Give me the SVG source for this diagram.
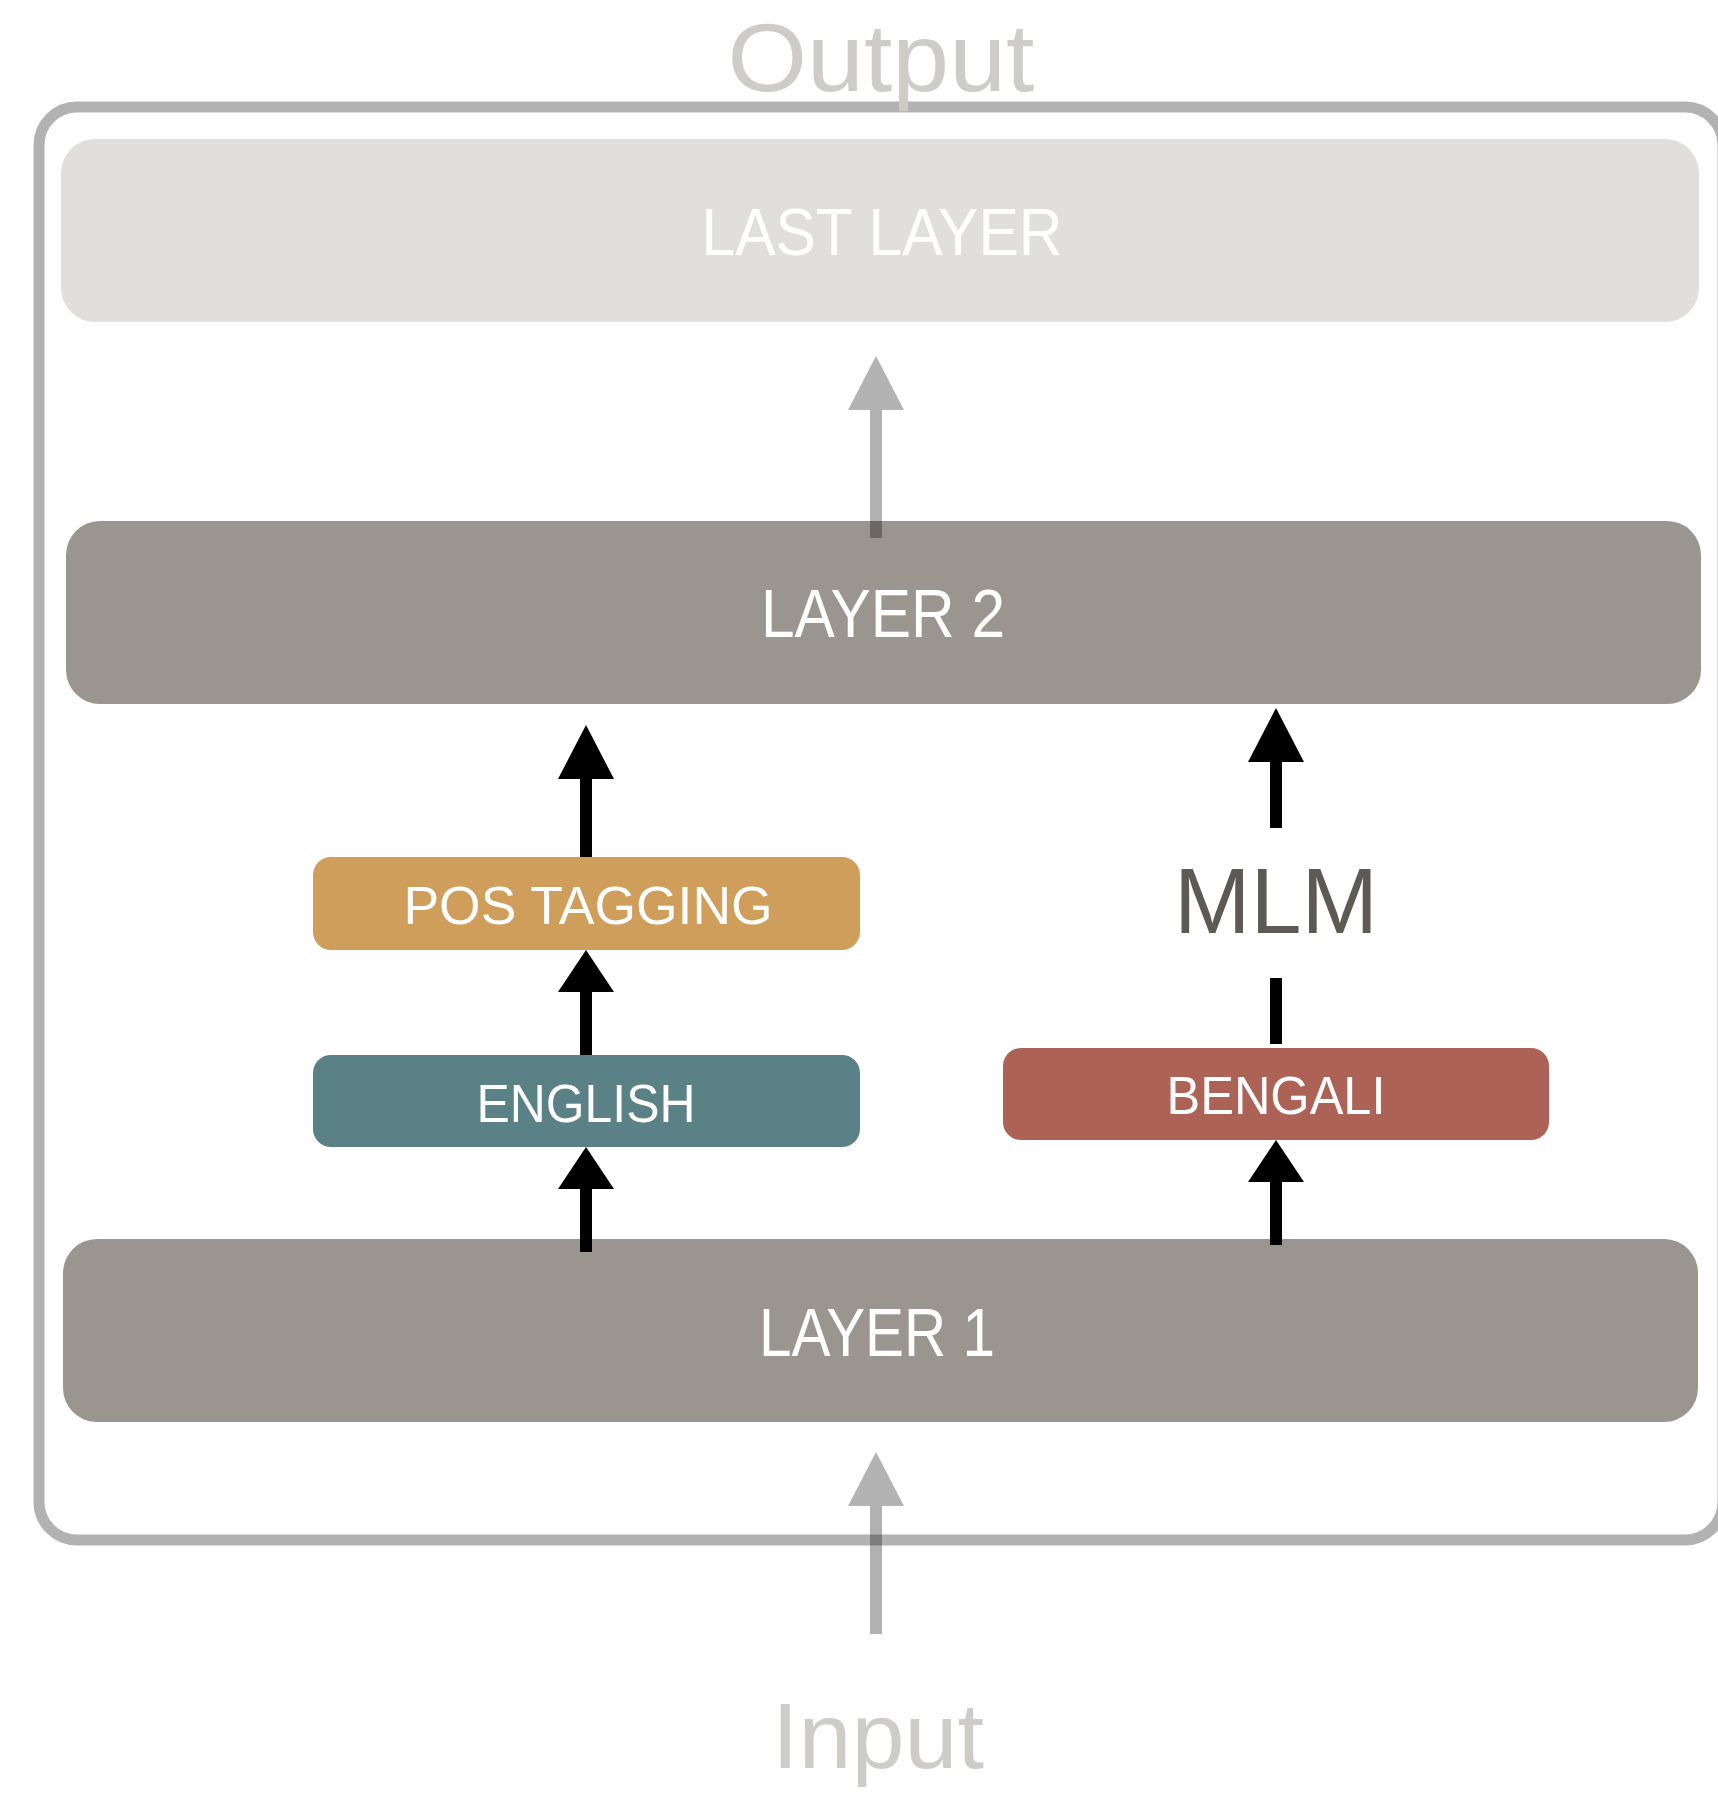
<svg xmlns="http://www.w3.org/2000/svg" width="1718" height="1793" viewBox="0 0 1718 1793">
<style>
.lbl{font-family:"Liberation Sans",Arial,sans-serif;fill:#ffffff;text-anchor:middle}
.io{font-family:"Liberation Sans",Arial,sans-serif;fill:#cdccc9;text-anchor:middle}
.blk{stroke:#000;stroke-width:12;fill:none}
.gry{stroke:#000;stroke-opacity:0.3;stroke-width:12;fill:none}
</style>
<defs>
<marker id="ah" markerUnits="userSpaceOnUse" markerWidth="56" markerHeight="54" refX="28" refY="0" viewBox="0 0 56 54" orient="auto-start-reverse" overflow="visible">
<path d="M0,54 L28,0 L56,54 Z" fill="#000"/>
</marker>
<marker id="ahg" markerUnits="userSpaceOnUse" markerWidth="56" markerHeight="54" refX="28" refY="0" viewBox="0 0 56 54" orient="auto-start-reverse" overflow="visible">
<path d="M0,54 L28,0 L56,54 Z" fill="#b3b3b3"/>
</marker>
</defs>
<rect width="1718" height="1793" fill="#ffffff"/>
<g id="frame">
<rect x="39" y="107" width="1684" height="1433" rx="38" fill="none" stroke="#000" stroke-opacity="0.3" stroke-width="11"/>
</g>
<g id="output"><text class="io" x="881" y="91" font-size="96" textLength="307" lengthAdjust="spacingAndGlyphs">Output</text></g>
<g id="input"><text class="io" x="878" y="1768" font-size="92" textLength="212" lengthAdjust="spacingAndGlyphs">Input</text></g>
<g id="last-layer">
<rect x="61" y="139" width="1638" height="183" rx="34" fill="#e0dfdd"/>
<text class="lbl" x="882" y="255" font-size="67" textLength="361" lengthAdjust="spacingAndGlyphs">LAST LAYER</text>
</g>
<g id="layer-2">
<rect x="66" y="521" width="1635" height="183" rx="34" fill="#9a958f"/>
<text class="lbl" x="883" y="637" font-size="68" textLength="244" lengthAdjust="spacingAndGlyphs">LAYER 2</text>
</g>
<g id="layer-1">
<rect x="63" y="1239" width="1635" height="183" rx="34" fill="#9a958f"/>
<text class="lbl" x="877" y="1356" font-size="68" textLength="236" lengthAdjust="spacingAndGlyphs">LAYER 1</text>
</g>
<g id="pos-tagging">
<rect x="313" y="857" width="547" height="93" rx="18" fill="#cf9e5b"/>
<text class="lbl" x="588" y="924" font-size="54" textLength="369" lengthAdjust="spacingAndGlyphs">POS TAGGING</text>
</g>
<g id="english">
<rect x="313" y="1055" width="547" height="92" rx="18" fill="#5a8286"/>
<text class="lbl" x="586" y="1122" font-size="54" textLength="219" lengthAdjust="spacingAndGlyphs">ENGLISH</text>
</g>
<g id="bengali">
<rect x="1003" y="1048" width="546" height="92" rx="18" fill="#ac6355"/>
<text class="lbl" x="1276" y="1114" font-size="53" textLength="219" lengthAdjust="spacingAndGlyphs">BENGALI</text>
</g>
<g id="mlm"><text x="1276" y="933" font-family="Liberation Sans,Arial,sans-serif" font-size="92" fill="#5d5a55" text-anchor="middle" textLength="204" lengthAdjust="spacingAndGlyphs">MLM</text></g>
<g id="connectors">
<line class="gry" x1="876" y1="538" x2="876" y2="400"/>
<path d="M848,410 L876,356 L904,410 Z" fill="#b3b3b3"/>
<line class="gry" x1="876" y1="1634" x2="876" y2="1498"/>
<path d="M848,1506 L876,1452 L904,1506 Z" fill="#b3b3b3"/>
<line class="blk" x1="586" y1="857" x2="586" y2="770"/>
<path d="M558,779 L586,725 L614,779 Z" fill="#000"/>
<line class="blk" x1="586" y1="1055" x2="586" y2="985"/>
<path d="M558,992 L586,950 L614,992 Z" fill="#000"/>
<line class="blk" x1="586" y1="1252" x2="586" y2="1182"/>
<path d="M558,1189 L586,1147 L614,1189 Z" fill="#000"/>
<line class="blk" x1="1276" y1="1245" x2="1276" y2="1175"/>
<path d="M1248,1182 L1276,1140 L1304,1182 Z" fill="#000"/>
<line class="blk" x1="1276" y1="1044" x2="1276" y2="978"/>
<line class="blk" x1="1276" y1="828" x2="1276" y2="755"/>
<path d="M1248,762 L1276,708 L1304,762 Z" fill="#000"/>
</g>
</svg>
